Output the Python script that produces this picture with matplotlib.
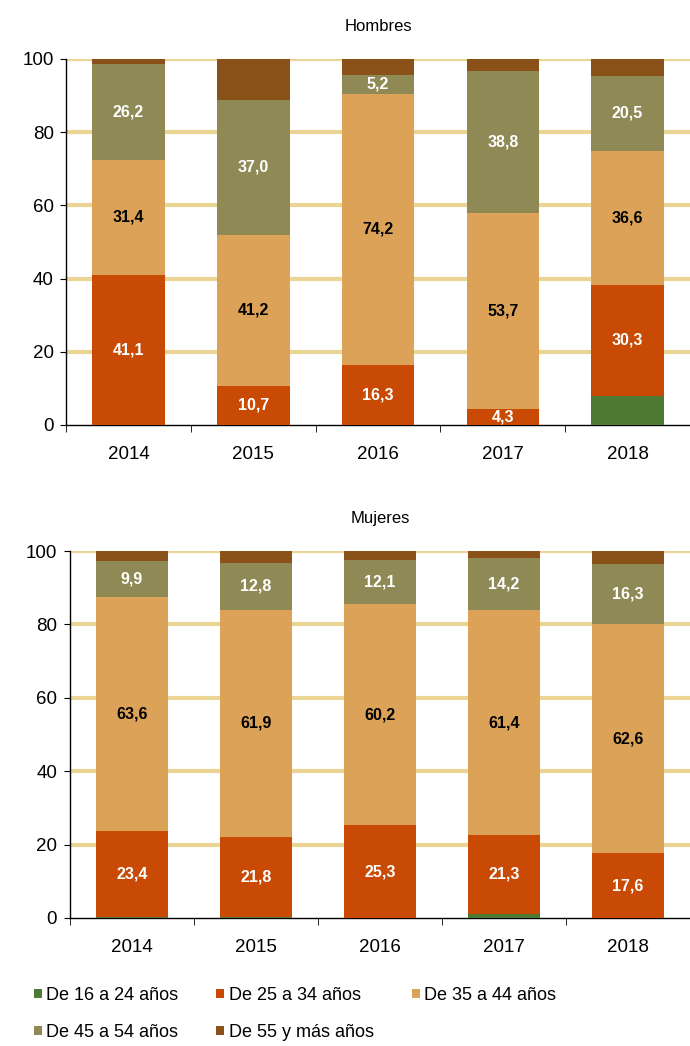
import matplotlib.pyplot as plt
import numpy as np

plt.rcParams['font.family'] = ['Liberation Sans', 'DejaVu Sans']

years = ['2014', '2015', '2016', '2017', '2018']
groups = ['De 16 a 24 años', 'De 25 a 34 años', 'De 35 a 44 años',
          'De 45 a 54 años', 'De 55 y más años']
colors = ['#4F7A34', '#C84A05', '#DCA257', '#8F8A55', '#8A5219']
label_colors = [None, 'white', 'black', 'white', None]

# Hombres, % por grupo de edad
h_16_24 = [0, 0, 0, 0, 8.0]
h_25_34 = [41.1, 10.7, 16.3, 4.3, 30.3]
h_35_44 = [31.4, 41.2, 74.2, 53.7, 36.6]
h_45_54 = [26.2, 37.0, 5.2, 38.8, 20.5]
h_55 = [1.3, 11.1, 4.3, 3.2, 4.6]

# Mujeres, % por grupo de edad
m_16_24 = [0.4, 0.3, 0, 1.2, 0]
m_25_34 = [23.4, 21.8, 25.3, 21.3, 17.6]
m_35_44 = [63.6, 61.9, 60.2, 61.4, 62.6]
m_45_54 = [9.9, 12.8, 12.1, 14.2, 16.3]
m_55 = [2.7, 3.2, 2.4, 1.9, 3.5]

hombres = [h_16_24, h_25_34, h_35_44, h_45_54, h_55]
mujeres = [m_16_24, m_25_34, m_35_44, m_45_54, m_55]

fig = plt.figure(figsize=(6.9, 10.46), dpi=100)
ax1 = fig.add_axes([0.096, 0.5937, 0.904, 0.35])
ax2 = fig.add_axes([0.101, 0.1224, 0.899, 0.3508])


def draw(ax, data, title):
    x = np.arange(len(years))
    bottom = np.zeros(len(years))
    handles = []
    for i, vals in enumerate(data):
        vals = np.array(vals, dtype=float)
        b = ax.bar(x, vals, 0.58, bottom=bottom, color=colors[i], zorder=3,
                   label=groups[i])
        handles.append(b)
        if label_colors[i]:
            for xi, v, bt in zip(x, vals, bottom):
                ax.text(xi, bt + v / 2, f'{v:.1f}'.replace('.', ','),
                        ha='center', va='center', fontsize=11.5,
                        fontweight='bold', color=label_colors[i], zorder=4)
        bottom += vals
    ax.set_ylim(0, 100)
    ax.set_xlim(-0.5, 4.5)
    ax.set_yticks([0, 20, 40, 60, 80, 100])
    for y in [20, 40, 60, 80, 100]:
        ax.axhline(y, color='#EBD595', lw=3, zorder=1)
    ax.set_xticks(x)
    ax.set_xticklabels(years)
    ax.tick_params(axis='x', which='major', length=0, pad=15, labelsize=13.5)
    ax.set_xticks(np.arange(-0.5, 5, 1), minor=True)
    ax.tick_params(axis='x', which='minor', length=5, direction='out')
    ax.tick_params(axis='y', length=4, labelsize=13.5, pad=5)
    for s in ['top', 'right']:
        ax.spines[s].set_visible(False)
    ax.spines['left'].set_linewidth(1)
    ax.spines['bottom'].set_linewidth(1)
    ax.set_title(title, fontsize=12, pad=20)
    return handles


handles = draw(ax1, hombres, 'Hombres')
draw(ax2, mujeres, 'Mujeres')

order = [0, 3, 1, 4, 2]
fig.legend([handles[i] for i in order], [groups[i] for i in order],
           ncol=3, loc='upper left', bbox_to_anchor=(0.025, 0.072),
           frameon=False, fontsize=13, handlelength=0.45, handleheight=0.45,
           handletextpad=0.25, columnspacing=2.1, labelspacing=1.1)

fig.savefig('out.png', dpi=100)
